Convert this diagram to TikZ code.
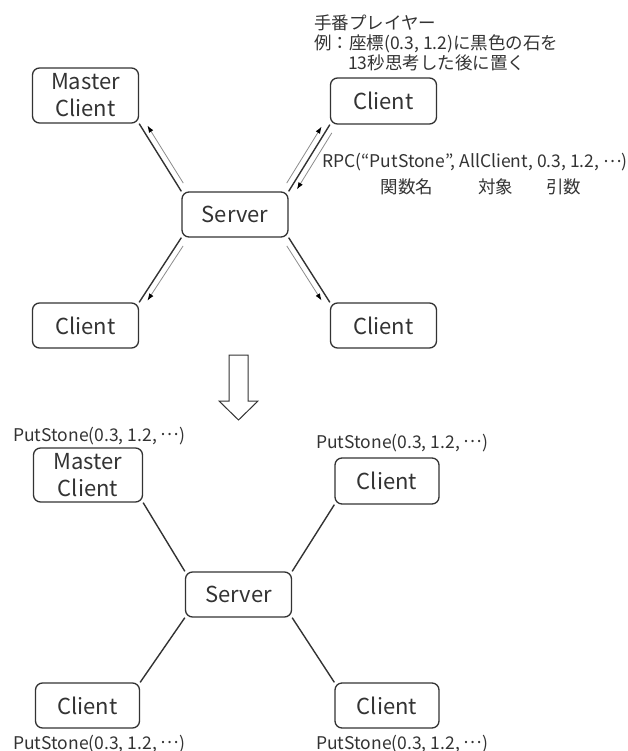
\documentclass[tikz,border=0pt]{standalone}
\usepackage{fontspec}
\setmainfont{Noto Sans CJK JP}
\usepackage{tikz}
\usepackage{xcolor}
\usetikzlibrary{arrows.meta, calc, positioning}
\definecolor{InkGray}{HTML}{333333}
\definecolor{WireGray}{HTML}{8C8C8C}
\newcommand{\middots}{\raisebox{0.3em}{…}}

\begin{document}
\begin{tikzpicture}[x=1pt, y=-1pt,
    box/.style={draw=InkGray, line width=1.3pt, rounded corners=7pt, text=InkGray,
        align=center, inner sep=0pt, minimum width=106pt, minimum height=46pt,
        font=\fontsize{22}{27}\selectfont},
    link/.style={InkGray, line width=1.4pt},
    msg/.style={WireGray, line width=0.8pt, shorten <=6pt, shorten >=6pt,
        -{Latex[length=7pt, width=5pt, color=black]}},
    note/.style={text=InkGray, inner sep=0pt, font=\fontsize{17.5}{20}\selectfont}]
    \useasboundingbox (0,0) rectangle (628,751);

    % before: the player's client calls the RPC through the server
    \node[box, minimum height=55pt] (mc) at (85.5,95.5) {Master\\Client};
    \node[box] (ctr) at (383.5,101) {Client};
    \node[box, minimum height=45pt] (srv) at (235,214.5) {Server};
    \node[box, minimum height=45pt] (cbl) at (85.5,325.5) {Client};
    \node[box, minimum height=45pt] (cbr) at (383.5,325.5) {Client};

    \node[note, anchor=base west] (turn) at (314,29.5) {手番プレイヤー};
    \node[note, anchor=base west] (ex) at (314,49.5) {例：座標(0.3, 1.2)に黒色の石を};
    \node[note, anchor=base west] (ex2) at (348,69.5) {13秒思考した後に置く};
    \node[note, anchor=base west] (rpc) at (322,168) {RPC(“PutStone”, AllClient, 0.3, 1.2, \middots)};
    \node[note, anchor=base] (fname) at (407,193.5) {関数名};
    \node[note, anchor=base] (target) at (495.5,193.5) {対象};
    \node[note, anchor=base] (args) at (563.5,193.5) {引数};

    \draw[link] (srv.north west) -- (mc.south east);
    \draw[link] (srv.north east) -- (ctr.south west);
    \draw[link] (srv.south west) -- (cbl.north east);
    \draw[link] (srv.south east) -- (cbr.north west);

    \draw[msg] ($(srv.north west)!6pt!-90:(mc.south east)$) -- ($(mc.south east)!6pt!90:(srv.north west)$);
    \draw[msg] ($(srv.north east)!6pt!90:(ctr.south west)$) -- ($(ctr.south west)!6pt!-90:(srv.north east)$);
    \draw[msg] ($(ctr.south west)!6pt!90:(srv.north east)$) -- ($(srv.north east)!6pt!-90:(ctr.south west)$);
    \draw[msg] ($(srv.south west)!6pt!90:(cbl.north east)$) -- ($(cbl.north east)!6pt!-90:(srv.south west)$);
    \draw[msg] ($(srv.south east)!6pt!-90:(cbr.north west)$) -- ($(cbr.north west)!6pt!90:(srv.south east)$);

    % hollow arrow between the two states
    \draw[InkGray, line width=1pt, fill=white, line join=miter]
        (229,355) -- (248,355) -- (248,401) -- (258,401) -- (238.5,420)
        -- (219,401) -- (229,401) -- cycle;

    % after: every client runs PutStone
    \node[box, minimum width=109pt, minimum height=54pt] (mc2) at (88,475) {Master\\Client};
    \node[box, minimum width=104pt] (ctr2) at (387,481) {Client};
    \node[box, minimum height=45pt] (srv2) at (238.5,594.5) {Server};
    \node[box, minimum width=104pt, minimum height=45pt] (cbl2) at (87.5,705.5) {Client};
    \node[box, minimum width=104pt, minimum height=45pt] (cbr2) at (387,705.5) {Client};

    \node[note, anchor=base west] (put1) at (13,441) {PutStone(0.3, 1.2, \middots)};
    \node[note, anchor=base west] (put2) at (316,448) {PutStone(0.3, 1.2, \middots)};
    \node[note, anchor=base west] (put3) at (13,749) {PutStone(0.3, 1.2, \middots)};
    \node[note, anchor=base west] (put4) at (316,749) {PutStone(0.3, 1.2, \middots)};

    \draw[link] (srv2.north west) -- (mc2.south east);
    \draw[link] (srv2.north east) -- (ctr2.south west);
    \draw[link] (srv2.south west) -- (cbl2.north east);
    \draw[link] (srv2.south east) -- (cbr2.north west);
\end{tikzpicture}
\end{document}
